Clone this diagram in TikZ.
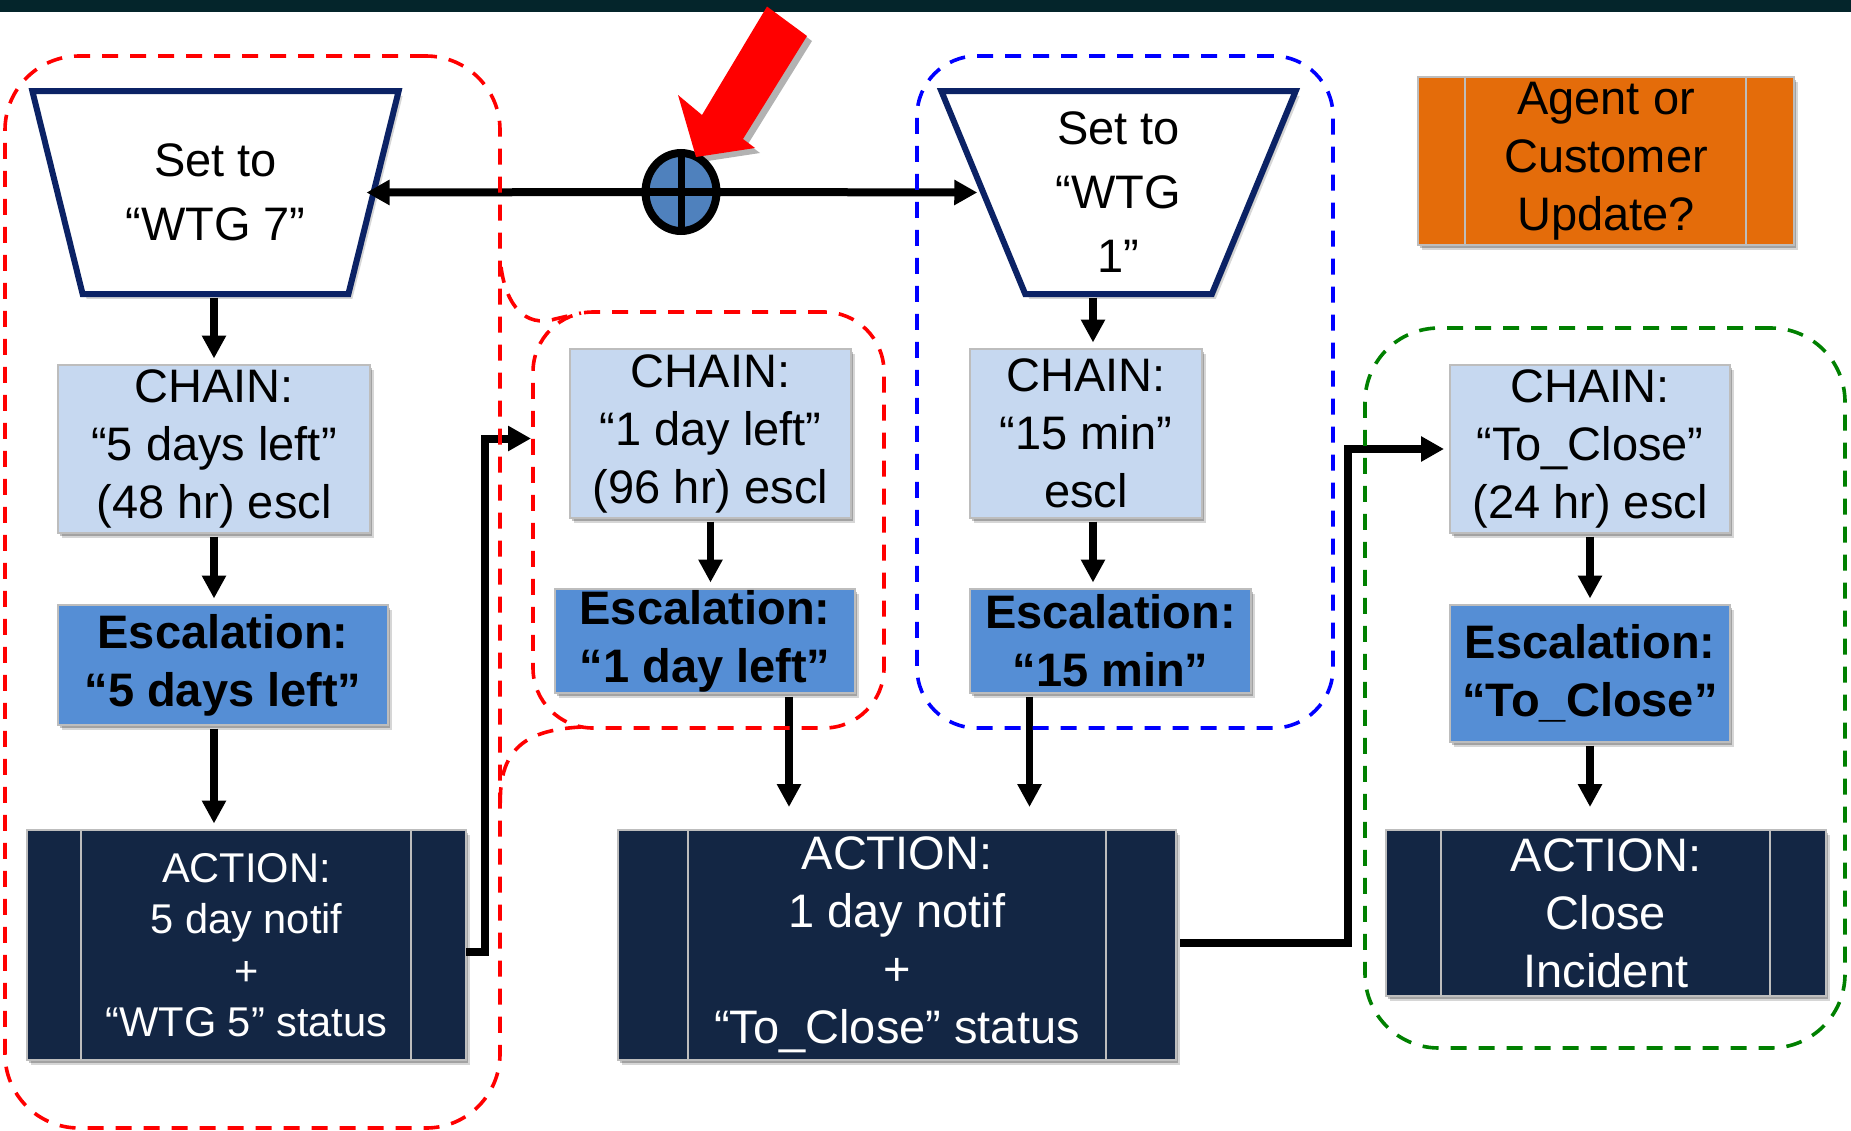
\documentclass[tikz,border=0pt]{standalone}
\usepackage{fontspec}
\setmainfont{Liberation Sans}
\usetikzlibrary{arrows.meta,shapes.geometric,shadows,calc}
\definecolor{barc}{HTML}{04252B}
\definecolor{navyc}{HTML}{0B2265}
\definecolor{chainc}{HTML}{C6D8F0}
\definecolor{escc}{HTML}{558ED5}
\definecolor{actc}{HTML}{132644}
\definecolor{orangec}{HTML}{E46C0A}
\definecolor{crossc}{HTML}{4F81BD}
\definecolor{edgec}{HTML}{BDBDBD}
\definecolor{greenr}{HTML}{008000}
\tikzset{
  softshadow/.style={drop shadow={shadow xshift=2pt,shadow yshift=-2.4pt,fill=black,opacity=.16},
                     drop shadow={shadow xshift=1.2pt,shadow yshift=-1.4pt,fill=black,opacity=.24}},
  boxbase/.style={rectangle,inner sep=0pt,outer sep=0pt,align=center,draw=edgec,line width=.9pt,softshadow},
  chainbox/.style={boxbase,fill=chainc,font=\fontsize{23.5}{29}\selectfont},
  escbox/.style={boxbase,fill=escc,font=\fontsize{23.5}{29}\selectfont\bfseries},
  actbox/.style={boxbase,fill=actc,text=white,font=\fontsize{23.5}{29}\selectfont},
  actsmall/.style={boxbase,fill=actc,text=white,font=\fontsize{20.8}{25.7}\selectfont},
  orangebox/.style={boxbase,fill=orangec,font=\fontsize{23.5}{29}\selectfont},
  divider/.style={draw=edgec,line width=.9pt},
  trap/.style={trapezium,trapezium stretches=true,trapezium left angle=70.7,trapezium right angle=70.7,
     shape border rotate=180,inner sep=0pt,outer sep=0pt,draw=navyc,line width=3pt,fill=white,align=center,softshadow,
     font=\fontsize{23.5}{32}\selectfont},
  flow/.style={draw=black,line width=3.75pt,-{Triangle[length=11.5pt,width=11.5pt]},shorten >=3.25pt,shorten <=1.75pt},
  elbow/.style={draw=black,line width=4pt,-{Triangle[length=11.5pt,width=12pt]}},
  region/.style={rectangle,inner sep=0pt,outer sep=0pt,line width=1.8pt,dash pattern=on 8pt off 6pt},
}
\begin{document}
\begin{tikzpicture}[x=.5pt,y=-.5pt]
\useasboundingbox (0,0) rectangle (1851,1130);
\fill[white] (0,0) rectangle (1851,1130);
\fill[barc] (0,0) rectangle (1851,11.5);

% trapezia
\node[trap,minimum width=183.5pt,minimum height=101.5pt] (t1) at (215.5,192.5) {Set to\\“WTG 7”};
\node[trap,minimum width=177.5pt,minimum height=101.5pt] (t2) at (1118.5,192.5) {Set to\\“WTG\\1”};

% chain boxes
\node[chainbox,minimum width=156pt,minimum height=84pt] (c1) at (214,449) {CHAIN:\\“5 days left”\\(48 hr) escl};
\node[chainbox,minimum width=140.5pt,minimum height=84.5pt] (c2) at (710.5,433.5) {CHAIN:\\“1 day left”\\(96 hr) escl};
\node[chainbox,minimum width=116pt,minimum height=84.5pt] (c3) at (1086,433.5) {CHAIN:\\“15 min”\\escl};
\node[chainbox,minimum width=140pt,minimum height=84pt] (c4) at (1590,449) {CHAIN:\\“To\_Close”\\(24 hr) escl};

% escalation boxes
\node[escbox,minimum width=165pt,minimum height=60pt] (e1) at (223,665) {Escalation:\\“5 days left”};
\node[escbox,minimum width=150pt,minimum height=52pt] (e2) at (705,641) {Escalation:\\“1 day left”};
\node[escbox,minimum width=140.5pt,minimum height=52pt] (e3) at (1110.5,641) {Escalation:\\“15 min”};
\node[escbox,minimum width=140pt,minimum height=68.5pt] (e4) at (1590,673.5) {Escalation:\\“To\_Close”};

% action boxes
\node[actsmall,minimum width=219.5pt,minimum height=115pt] (a1) at (246.5,945) {ACTION:\\5 day notif\\+\\“WTG 5” status};
\node[actbox,minimum width=279pt,minimum height=115pt] (a2) at (897,945) {ACTION:\\1 day notif\\+\\“To\_Close” status};
\node[actbox,minimum width=220pt,minimum height=83pt] (a3) at (1606,913) {ACTION:\\Close\\Incident};
\node[orangebox,minimum width=188pt,minimum height=84pt] (o1) at (1606,161) {Agent or\\Customer\\Update?};

\draw[divider] ([xshift=27pt]a1.north west) -- ([xshift=27pt]a1.south west);
\draw[divider] ([xshift=-27.5pt]a1.north east) -- ([xshift=-27.5pt]a1.south east);
\draw[divider] ([xshift=35pt]a2.north west) -- ([xshift=35pt]a2.south west);
\draw[divider] ([xshift=-35pt]a2.north east) -- ([xshift=-35pt]a2.south east);
\draw[divider] ([xshift=27.5pt]a3.north west) -- ([xshift=27.5pt]a3.south west);
\draw[divider] ([xshift=-28pt]a3.north east) -- ([xshift=-28pt]a3.south east);
\draw[divider] ([xshift=23.5pt]o1.north west) -- ([xshift=23.5pt]o1.south west);
\draw[divider] ([xshift=-24pt]o1.north east) -- ([xshift=-24pt]o1.south east);

% helper coordinates
\coordinate (xa) at (789,0);
\coordinate (xb) at (1029.5,0);
\coordinate (xc) at (1093,0);
\coordinate (bend1) at (485,952);
\coordinate (tip1) at (531,438.5);
\coordinate (bend2) at (1348,943);

% junction
\node[ellipse,inner sep=0pt,outer sep=0pt,minimum width=35.5pt,minimum height=39pt,fill=crossc,draw=black,line width=4pt] (j) at (681,192) {};
\draw[line width=3.5pt] (j.north) -- (j.south);
\draw[line width=4pt] (j.west) -- (j.east);
\draw[elbow,shorten >=-3.5pt] (j.west) -- (t1.east);
\draw[elbow,shorten >=3pt] (j.east) -- (t2.west);

% red pointer
\fill[red,drop shadow={shadow xshift=2.5pt,shadow yshift=-2.5pt,fill=black,opacity=.3}]
  (767,6.5) -- (807,36) -- (743,139) -- (755,148) -- (696,157) -- (678,95) -- (702,115) -- cycle;

% flows
\draw[flow] (t1.south -| c1.north) -- (c1.north);
\draw[flow] (c1.south) -- (c1.south |- e1.north);
\draw[flow] (e1.south -| c1.south) -- (c1.south |- a1.north);
\draw[flow] (c2.south) -- (c2.south |- e2.north);
\draw[flow,shorten >=11.5pt] (e2.south -| xa) -- (xa |- a2.north);
\draw[flow,shorten >=11.5pt] (e3.south -| xb) -- (xb |- a2.north);
\draw[flow] (t2.south -| xc) -- (xc |- c3.north);
\draw[flow] (c3.south -| xc) -- (xc |- e3.north);
\draw[flow] (c4.south) -- (c4.south |- e4.north);
\draw[flow,shorten >=11.5pt] (e4.south) -- (e4.south |- a3.north);
\draw[elbow] (a1.east |- bend1) -- (bend1) |- (tip1);
\draw[elbow,shorten <=2pt,shorten >=3pt] (a2.east |- bend2) -- (bend2) |- (c4.west);

% dashed regions
\node[region,draw=red,rounded corners=37pt,minimum width=247.5pt,minimum height=536pt] (r1) at (252.5,592) {};
\node[region,draw=red,rounded corners=30pt,minimum width=175.5pt,minimum height=208pt] (r2) at (708.5,520) {};
\node[region,draw=blue,rounded corners=30pt,minimum width=208pt,minimum height=336pt] (r3) at (1125,392) {};
\node[region,draw=greenr,rounded corners=37pt,minimum width=240pt,minimum height=360pt] (r4) at (1605,688) {};
\coordinate (l1) at (501,267);
\coordinate (l2) at (581,313);
\coordinate (l3) at (581,727);
\coordinate (l4) at (501,814);
\draw[red,line width=1.8pt,dash pattern=on 8pt off 6pt] (l1) .. controls (506,305) and (525,328) .. (555,319) -- (l2);
\draw[red,line width=1.8pt,dash pattern=on 8pt off 6pt] (l3) .. controls (530,730) and (495,745) .. (l4);
\end{tikzpicture}
\end{document}
